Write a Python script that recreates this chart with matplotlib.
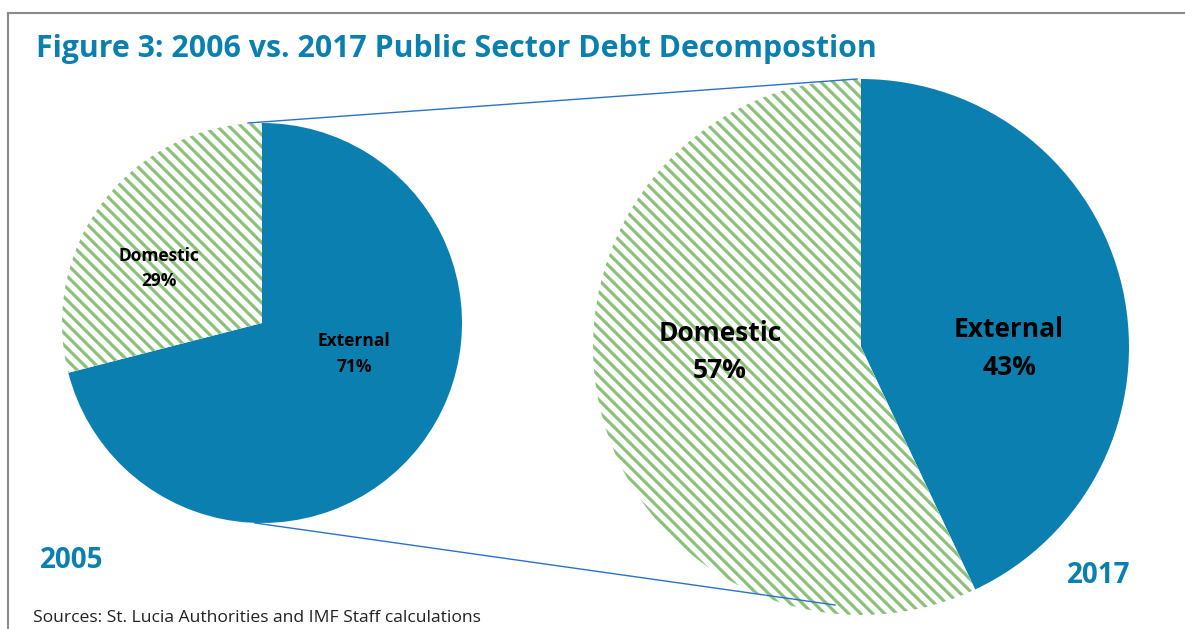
import numpy as np
import matplotlib
matplotlib.use("Agg")
import matplotlib.pyplot as plt
from matplotlib.lines import Line2D
from matplotlib.collections import LineCollection

plt.rcParams['font.family'] = ['Open Sans', 'DejaVu Sans']

# Debt composition data
categories = ["External", "Domestic"]
share_2005 = [71, 29]
share_2017 = [43, 57]
year_labels = ["2005", "2017"]
title = "Figure 3: 2006 vs. 2017 Public Sector Debt Decompostion"
source = "Sources: St. Lucia Authorities and IMF Staff calculations"

W, H = 1185, 629
BLUE = "#0b80b0"
GREEN = "#8cc07a"
TEAL = "#0a80b0"

fig = plt.figure(figsize=(W / 100, H / 100), dpi=100)
ax = fig.add_axes([0, 0, 1, 1])


def py(y):
    # convert top-down pixel rows to axis units
    return H - y


def stripe(wedge, center, radius, spacing=12.0, lw=2.3):
    # diagonal stripes (top-left to bottom-right) clipped to the wedge
    cx, cy = center
    x0, x1 = cx - radius, cx + radius
    y0, y1 = cy - radius, cy + radius
    start = np.floor((x0 + y0) / spacing) * spacing
    segs = [[(c - y1, y1), (c - y0, y0)]
            for c in np.arange(start, x1 + y1 + spacing, spacing)]
    lc = LineCollection(segs, colors=GREEN, linewidths=lw, capstyle="butt")
    ax.add_collection(lc)
    lc.set_clip_path(wedge)


def draw_pie(values, center, radius):
    wedges, _ = ax.pie(values, center=center, radius=radius, startangle=90,
                       counterclock=False, frame=True,
                       colors=[BLUE, "white"],
                       wedgeprops=dict(linewidth=0))
    stripe(wedges[1], center, radius)
    return wedges


def label(x, y_name, y_pct, name, pct, size):
    ax.text(x, py(y_name), name, ha="center", va="baseline",
            fontsize=size, fontweight="bold", color="black")
    ax.text(x, py(y_pct), f"{pct}%", ha="center", va="baseline",
            fontsize=size, fontweight="bold", color="black")


left_c, left_r = (262, py(323)), 200
right_c, right_r = (861, py(347)), 268
draw_pie(share_2005, left_c, left_r)
draw_pie(share_2017, right_c, right_r)
ax.set_xlim(0, W)
ax.set_ylim(0, H)
ax.set_aspect("equal")
ax.axis("off")

# connector lines between the two pies
ax.add_line(Line2D([248, 857], [py(123), py(79)], color="#2a72c8", lw=1.0))
ax.add_line(Line2D([255, 835], [py(523), py(605)], color="#2a72c8", lw=1.0))

# wedge labels
label(159, 261, 286, categories[1], share_2005[1], 12.5)
label(354, 346, 372, categories[0], share_2005[0], 12.5)
label(720, 341, 378, categories[1], share_2017[1], 19)
label(1009, 337, 375, categories[0], share_2017[0], 19)

# year captions
ax.text(40, py(568), year_labels[0], ha="left", va="baseline", fontsize=20,
        fontweight="bold", color=TEAL)
ax.text(1067, py(583), year_labels[1], ha="left", va="baseline", fontsize=20,
        fontweight="bold", color=TEAL)

# title and source
ax.text(36, py(57), title, ha="left", va="baseline", fontsize=21.8,
        fontweight="bold", color=TEAL)
ax.text(33, py(622), source, ha="left", va="baseline", fontsize=12.6, color="#222222")

# frame
ax.add_line(Line2D([8, 8], [py(13), 0], color="#8a8a8a", lw=1.5))
ax.add_line(Line2D([8, W], [py(13), py(13)], color="#8a8a8a", lw=1.5))

fig.savefig("out.png", dpi=100)
